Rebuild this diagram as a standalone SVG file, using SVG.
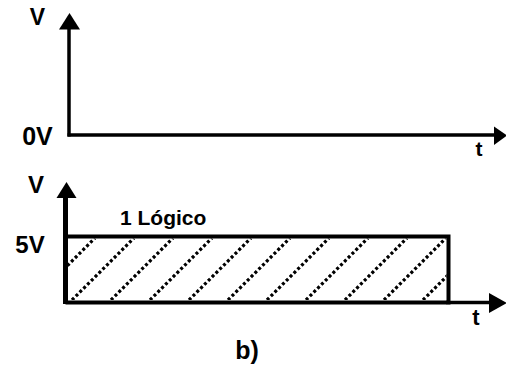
<svg xmlns="http://www.w3.org/2000/svg" width="506" height="371" viewBox="0 0 506 371">
<style>
text{font-family:"Liberation Sans",Arial,sans-serif;font-weight:bold;fill:#000}
.ax{stroke:#000;fill:none}
.hatch{stroke:#000;stroke-width:3.2;stroke-dasharray:3 2.4;fill:none}
</style>
<defs>
<clipPath id="inner"><rect x="68" y="238.5" width="378.5" height="61.5"/></clipPath>
</defs>
<rect width="506" height="371" fill="#fff"/>
<g id="connectors">
<line class="ax" x1="69" y1="28" x2="69" y2="136.5" stroke-width="3.5"/>
<line class="ax" x1="67.5" y1="135" x2="495" y2="135" stroke-width="3.5"/>
<polygon points="59,29.5 80,29.5 69.5,13" fill="#000"/>
<polygon points="494,126.5 494,145 507,135.5" fill="#000"/>
<line class="ax" x1="65.5" y1="196" x2="65.5" y2="304" stroke-width="5"/>
<line class="ax" x1="446" y1="302.5" x2="491" y2="302.5" stroke-width="3.5"/>
<polygon points="56.5,198 76.5,198 66.5,182" fill="#000"/>
<polygon points="489,293 489,313 507,303" fill="#000"/>
</g>
<g id="top-graph">
<text x="37.5" y="25" font-size="23" text-anchor="middle">V</text>
<text x="37.5" y="145" font-size="25" text-anchor="middle">0V</text>
<text x="479" y="156" font-size="21" text-anchor="middle">t</text>
</g>
<g id="pulse">
<g clip-path="url(#inner)" class="hatch">
<line x1="33" y1="300" x2="95" y2="238"/>
<line x1="72" y1="300" x2="134" y2="238"/>
<line x1="111" y1="300" x2="173" y2="238"/>
<line x1="150" y1="300" x2="212" y2="238"/>
<line x1="189" y1="300" x2="251" y2="238"/>
<line x1="228" y1="300" x2="290" y2="238"/>
<line x1="267" y1="300" x2="329" y2="238"/>
<line x1="306" y1="300" x2="368" y2="238"/>
<line x1="345" y1="300" x2="407" y2="238"/>
<line x1="384" y1="300" x2="446" y2="238"/>
<line x1="423" y1="300" x2="485" y2="238"/>
</g>
<polyline points="65.5,236.5 448.5,236.5 448.5,302.5 65.5,302.5" fill="none" stroke="#000" stroke-width="4"/>
</g>
<g id="bottom-labels">
<text x="36" y="193" font-size="24" text-anchor="middle">V</text>
<text x="30" y="253" font-size="24" text-anchor="middle">5V</text>
<text x="120" y="225" font-size="21">1 Lógico</text>
<text x="476" y="325" font-size="22" text-anchor="middle">t</text>
<text x="247" y="359" font-size="25" text-anchor="middle">b)</text>
</g>
</svg>
